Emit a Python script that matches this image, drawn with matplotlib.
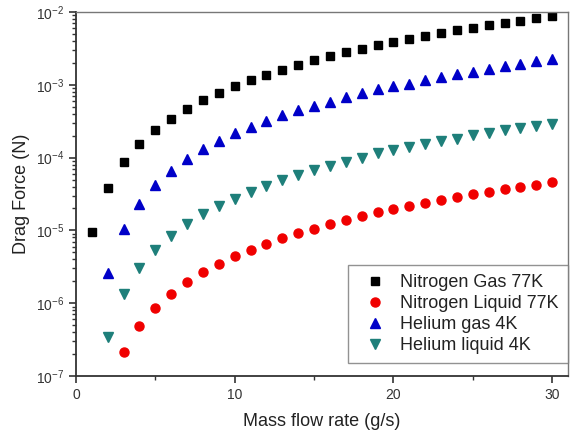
import matplotlib
matplotlib.use("Agg")
import matplotlib.pyplot as plt
from matplotlib.ticker import LogLocator, MultipleLocator, NullFormatter

plt.rcParams['font.family'] = ['Liberation Sans', 'DejaVu Sans']
plt.rcParams['mathtext.fontset'] = 'custom'
plt.rcParams['mathtext.rm'] = 'Liberation Sans'
plt.rcParams['mathtext.it'] = 'Liberation Sans:italic'
plt.rcParams['mathtext.bf'] = 'Liberation Sans:bold'

x_n2gas = list(range(1, 31))
n2gas = [9.6e-6, 3.77e-5, 8.6e-5, 1.52e-4, 2.37e-4, 3.44e-4, 4.72e-4, 6.19e-4, 7.73e-4, 9.57e-4,
         1.17e-3, 1.37e-3, 1.62e-3, 1.88e-3, 2.18e-3, 2.48e-3, 2.81e-3, 3.12e-3, 3.48e-3, 3.90e-3,
         4.25e-3, 4.67e-3, 5.14e-3, 5.60e-3, 6.02e-3, 6.56e-3, 7.05e-3, 7.59e-3, 8.19e-3, 8.89e-3]

x_n2liq = list(range(3, 31))
n2liq = [2.16e-7, 4.89e-7, 8.56e-7, 1.33e-6, 1.95e-6, 2.65e-6, 3.46e-6, 4.40e-6, 5.44e-6, 6.52e-6,
         7.78e-6, 9.12e-6, 1.06e-5, 1.21e-5, 1.38e-5, 1.56e-5, 1.79e-5, 1.98e-5, 2.15e-5, 2.39e-5,
         2.63e-5, 2.89e-5, 3.14e-5, 3.42e-5, 3.68e-5, 3.97e-5, 4.23e-5, 4.60e-5]

x_hegas = list(range(2, 31))
hegas = [2.56e-6, 1.03e-5, 2.34e-5, 4.27e-5, 6.52e-5, 9.44e-5, 1.30e-4, 1.69e-4, 2.15e-4, 2.67e-4,
         3.15e-4, 3.81e-4, 4.47e-4, 5.12e-4, 5.89e-4, 6.81e-4, 7.66e-4, 8.69e-4, 9.48e-4, 1.04e-3,
         1.17e-3, 1.27e-3, 1.39e-3, 1.52e-3, 1.66e-3, 1.79e-3, 1.92e-3, 2.09e-3, 2.23e-3]

x_heliq = list(range(2, 31))
heliq = [3.41e-7, 1.35e-6, 3.04e-6, 5.44e-6, 8.48e-6, 1.24e-5, 1.70e-5, 2.16e-5, 2.74e-5, 3.39e-5,
         4.05e-5, 4.90e-5, 5.74e-5, 6.73e-5, 7.64e-5, 8.79e-5, 9.98e-5, 1.14e-4, 1.26e-4, 1.38e-4,
         1.55e-4, 1.69e-4, 1.82e-4, 2.02e-4, 2.20e-4, 2.37e-4, 2.58e-4, 2.72e-4, 2.89e-4]

labels = ["Nitrogen Gas 77K", "Nitrogen Liquid 77K", "Helium gas 4K", "Helium liquid 4K"]

fig = plt.figure(figsize=(5.72, 4.38), dpi=100)
ax = fig.add_axes([76/572, 1 - 376/438, (568 - 76)/572, (376 - 12)/438])

ax.plot(x_n2gas, n2gas, 's', color='black', ms=5.5, mec='black', label=labels[0])
ax.plot(x_n2liq, n2liq, 'o', color='#f00000', ms=6.5, mec='#f00000', label=labels[1])
ax.plot(x_hegas, hegas, '^', color='#0000c8', ms=7, mec='#0000c8', label=labels[2])
ax.plot(x_heliq, heliq, 'v', color='#1e7f7a', ms=7, mec='#1e7f7a', label=labels[3])

ax.set_yscale('log')
ax.set_ylim(1e-7, 1e-2)
ax.set_xlim(0, 31)
ax.xaxis.set_major_locator(MultipleLocator(10))
ax.xaxis.set_minor_locator(MultipleLocator(5))
ax.yaxis.set_major_locator(LogLocator(base=10, numticks=10))
ax.yaxis.set_minor_locator(LogLocator(base=10, subs=range(2, 10), numticks=20))
ax.yaxis.set_minor_formatter(NullFormatter())

ax.tick_params(axis='both', which='major', direction='out', length=5, width=1.2,
               labelsize=10, colors='#333333', labelcolor='#333333')
ax.tick_params(axis='both', which='minor', direction='out', length=3, width=1.0, colors='#333333')
ax.tick_params(top=False, right=False, which='both')

for s in ax.spines.values():
    s.set_linewidth(1.3)
    s.set_color('#333333')
for s in ['top', 'right']:
    ax.spines[s].set_color('#777777')
    ax.spines[s].set_linewidth(1.0)

ax.set_xlabel("Mass flow rate (g/s)", fontsize=13, color='#222222', labelpad=8)
ax.set_ylabel("Drag Force (N)", fontsize=13, color='#222222', labelpad=4)

leg = ax.legend(loc='lower right', fontsize=13, frameon=True, fancybox=False,
                edgecolor='#777777', labelspacing=0.22, handletextpad=0.4,
                borderpad=0.5, handlelength=2.0, borderaxespad=0,
                bbox_to_anchor=(1.0, 0.036))
leg.get_frame().set_linewidth(1.0)
for t in leg.get_texts():
    t.set_color('#222222')

fig.savefig("out.png", dpi=100)
